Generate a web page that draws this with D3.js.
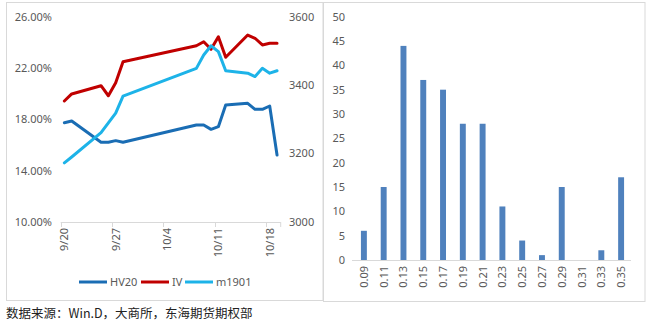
<!DOCTYPE html>
<html><head><meta charset="utf-8">
<script src="https://cdn.jsdelivr.net/npm/d3@7"></script>
<style>
body{margin:0;background:#fff;}
svg{display:block;font-family:"Noto Sans","Noto Sans CJK SC",sans-serif;}
</style></head>
<body>
<svg id="c" width="653" height="324"></svg>
<script>
// ---- data ----
const dates = ["2018-09-20","2018-09-21","2018-09-25","2018-09-26","2018-09-27","2018-09-28",
  "2018-10-08","2018-10-09","2018-10-10","2018-10-11","2018-10-12","2018-10-15","2018-10-16",
  "2018-10-17","2018-10-18","2018-10-19"];
const hv20 = [17.74,17.87,16.21,16.21,16.34,16.21,17.56,17.56,17.22,17.43,19.12,19.25,18.78,18.78,19.04,15.22];
const iv   = [19.43,19.98,20.62,19.84,20.86,22.49,23.74,24.05,23.46,24.44,22.84,24.57,24.32,23.80,23.93,23.93];
const m1901= [3173,3190,3261,3290,3318,3368,3449,3488,3515,3498,3442,3435,3425,3449,3435,3442];
const leftTicks = [10,14,18,22,26];
const rightTicks = [3000,3200,3400,3600];
const xTickDates = ["2018-09-20","2018-09-27","2018-10-04","2018-10-11","2018-10-18"];
const xTickLabels = ["9/20","9/27","10/4","10/11","10/18"];
const seriesNames = ["HV20","IV","m1901"];
const seriesColors = ["#1a6db4","#c00000","#1db3e8"];

const bins = ["0.09","0.11","0.13","0.15","0.17","0.19","0.21","0.23","0.25","0.27","0.29","0.31","0.33","0.35"];
const counts = [6,15,44,37,35,28,28,11,4,1,15,0,2,17];
const barTicks = [0,5,10,15,20,25,30,35,40,45,50];

const footer = "数据来源：Win.D，大商所，东海期货期权部";

// ---- drawing ----
const svg = d3.select("#c");
const txt = "#595959", axisCol = "#d9d9d9";
const parse = d3.timeParse("%Y-%m-%d");
const HALF = 12*3600*1000;

// frames
svg.append("rect").attr("x",6.5).attr("y",2.5).attr("width",316.5).attr("height",298)
  .attr("fill","none").attr("stroke",axisCol);
svg.append("rect").attr("x",323.5).attr("y",2.5).attr("width",321.5).attr("height",299)
  .attr("fill","none").attr("stroke",axisCol);

// left chart
const x = d3.scaleTime().domain([parse("2018-09-20"), parse("2018-10-20")]).range([60.7,280.7]);
const yL = d3.scaleLinear().domain([10,26]).range([222,16.7]);
const yR = d3.scaleLinear().domain([3000,3600]).range([222,16.7]);

const gl = svg.append("g");
leftTicks.forEach(v=>{
  gl.append("text").attr("x",52).attr("y",yL(v)).attr("dy","0.35em").attr("text-anchor","end")
    .attr("font-size",11).attr("fill",txt).text(v.toFixed(2)+"%");
});
rightTicks.forEach(v=>{
  gl.append("text").attr("x",289).attr("y",yR(v)).attr("dy","0.35em").attr("text-anchor","start")
    .attr("font-size",11).attr("fill",txt).text(v);
});
// x axis
gl.append("line").attr("x1",x.range()[0]).attr("x2",x.range()[1]).attr("y1",222.5).attr("y2",222.5)
  .attr("stroke",axisCol);
xTickDates.forEach((d,i)=>{
  const t = parse(d);
  const xp = Math.round(x(t))+0.5;
  gl.append("line").attr("x1",xp).attr("x2",xp).attr("y1",222).attr("y2",227).attr("stroke",axisCol);
  const cx = x(new Date(+t+HALF));
  gl.append("text").attr("transform",`translate(${cx+4},228) rotate(-90)`)
    .attr("text-anchor","end").attr("font-size",11).attr("fill",txt).text(xTickLabels[i]);
});
gl.append("line").attr("x1",280.7).attr("x2",280.7).attr("y1",222).attr("y2",227).attr("stroke",axisCol);

const pts = dates.map(parse);
const mk = (vals, ys) => d3.line().x((d,i)=>x(new Date(+pts[i]+HALF))).y(d=>ys(d))(vals);
[[hv20,yL],[iv,yL],[m1901,yR]].forEach(([vals,ys],i)=>{
  gl.append("path").attr("d",mk(vals,ys)).attr("fill","none").attr("stroke",seriesColors[i])
    .attr("stroke-width",3).attr("stroke-linejoin","round").attr("stroke-linecap","round");
});
order = [2,0,1];

// legend
const legX = [79,141,185];
seriesNames.forEach((n,i)=>{
  gl.append("line").attr("x1",legX[i]).attr("x2",legX[i]+28).attr("y1",282).attr("y2",282)
    .attr("stroke",seriesColors[i]).attr("stroke-width",3);
  gl.append("text").attr("x",legX[i]+31).attr("y",282).attr("dy","0.35em").attr("font-size",11)
    .attr("fill",txt).text(n);
});

// right chart
const xb = d3.scaleBand().domain(bins).range([354,631]).paddingInner(0.7).paddingOuter(0.35);
const yb = d3.scaleLinear().domain([0,50]).range([260,16.7]);
const gr = svg.append("g");
barTicks.forEach(v=>{
  gr.append("text").attr("x",345).attr("y",yb(v)).attr("dy","0.35em").attr("text-anchor","end")
    .attr("font-size",11).attr("fill",txt).text(v);
});
gr.selectAll("rect.bar").data(counts).join("rect").attr("class","bar")
  .attr("x",(d,i)=>xb(bins[i])).attr("width",xb.bandwidth())
  .attr("y",d=>yb(d)).attr("height",d=>yb(0)-yb(d)).attr("fill","#4f81bd");
gr.append("line").attr("x1",352).attr("x2",631).attr("y1",260.5).attr("y2",260.5).attr("stroke",axisCol);
bins.forEach(b=>{
  const cx = xb(b)+xb.bandwidth()/2;
  gr.append("text").attr("transform",`translate(${cx+4},266) rotate(-90)`)
    .attr("text-anchor","end").attr("font-size",11).attr("fill",txt).text(b);
});

// footer
svg.append("text").attr("x",6).attr("y",318).attr("font-size",12.5)
  .attr("font-family","'Noto Sans CJK SC',sans-serif").attr("fill","#222").text(footer);
</script>
</body></html>
